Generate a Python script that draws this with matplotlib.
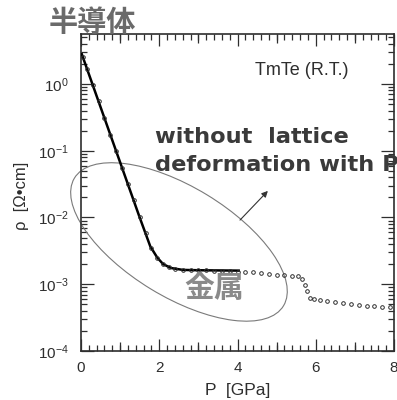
import numpy as np
import matplotlib
matplotlib.use("Agg")
import matplotlib.pyplot as plt
from matplotlib.patches import Ellipse
from matplotlib.ticker import LogLocator, MultipleLocator, NullFormatter, FixedLocator

plt.rcParams['font.family'] = ['Liberation Sans', 'DejaVu Sans']
plt.rcParams['mathtext.fontset'] = 'custom'
plt.rcParams['mathtext.rm'] = 'Liberation Sans'
plt.rcParams['mathtext.it'] = 'Liberation Sans:italic'

# Measured resistivity of TmTe at room temperature (open circles)
p_meas = [0.05, 0.15, 0.30, 0.45, 0.60, 0.75, 0.90, 1.05, 1.20, 1.35, 1.50,
          1.65, 1.80, 1.95, 2.10, 2.25, 2.40, 2.60, 2.80, 3.00, 3.20, 3.40,
          3.60, 3.80, 4.00, 4.20, 4.40, 4.60, 4.80, 5.00, 5.20, 5.40, 5.55,
          5.65, 5.72, 5.78, 5.85, 5.95, 6.10, 6.30, 6.50, 6.70, 6.90, 7.10,
          7.30, 7.50, 7.70, 7.90]
rho_meas = [2.5, 1.7, 0.96, 0.55, 0.31, 0.17, 0.098, 0.056, 0.032, 0.018,
            0.010, 0.0058, 0.0035, 0.0025, 0.0020, 0.0018, 0.0017, 0.00164,
            0.00163, 0.00162, 0.00161, 0.00160, 0.00159, 0.00157, 0.00155,
            0.00153, 0.00150, 0.00147, 0.00143, 0.00139, 0.00136, 0.00134,
            0.00132, 0.00118, 0.00098, 0.00078, 0.00063, 0.00060, 0.00058,
            0.00056, 0.00054, 0.00052, 0.00050, 0.00049, 0.00048, 0.00047,
            0.00046, 0.00045]

# Calculated curve without lattice deformation (solid line)
p_calc = [0.02, 0.90, 1.50, 1.77, 1.95, 2.10, 2.30, 2.60, 3.00, 4.03]
rho_calc = [2.8, 0.098, 0.010, 0.0037, 0.0025, 0.0020, 0.00175, 0.00164,
            0.00162, 0.00160]

x_major = [0, 2, 4, 6, 8]
x_mid = [1, 3, 5, 7]

W, H = 397, 400
fig = plt.figure(figsize=(W / 100, H / 100), dpi=100)
ax = fig.add_axes([81 / W, 1 - 351 / H, (394 - 81) / W, (351 - 34) / H])

ink = '#2e2e2e'
ax.plot(p_calc, rho_calc, color='black', lw=1.8, zorder=3)
ax.plot(p_meas, rho_meas, ls='none', marker='o', ms=2.6, mfc='none',
        mec=ink, mew=0.7, zorder=4)

ax.set_yscale('log')
ax.set_xlim(0, 8)
ax.set_ylim(1e-4, 5.6)

ax.xaxis.set_major_locator(FixedLocator(x_major))
ax.xaxis.set_minor_locator(MultipleLocator(0.2))
ax.yaxis.set_major_locator(LogLocator(base=10, numticks=10))
ax.yaxis.set_minor_locator(LogLocator(base=10, subs=np.arange(2, 10), numticks=20))
ax.yaxis.set_minor_formatter(NullFormatter())

ax.tick_params(which='both', direction='in', top=True, right=True,
               color=ink, labelcolor=ink, width=0.9)
ax.tick_params(axis='y', which='major', length=9.5, labelsize=11, pad=9)
ax.tick_params(axis='y', which='minor', length=4.5)
ax.tick_params(axis='x', which='major', length=8.5, labelsize=11, pad=7)
ax.tick_params(axis='x', which='minor', length=4)
for s in ax.spines.values():
    s.set_linewidth(1.2)
    s.set_color(ink)

# medium-length ticks at odd pressures, bottom and top
for loc in ('bottom', 'top'):
    sec = ax.secondary_xaxis(loc)
    sec.set_xticks(x_mid)
    sec.tick_params(direction='in', length=6.5, width=0.9, color=ink,
                    labelbottom=False, labeltop=False)
    sec.spines[loc].set_visible(False)

ax.set_xlabel('P  [GPa]', fontsize=12.5, color=ink, labelpad=6)
ax.set_ylabel('ρ  [Ω•cm]', fontsize=12, color=ink)
ax.yaxis.set_label_coords(-0.165, 0.49)

ax.text(0.705, 0.885, 'TmTe (R.T.)', transform=ax.transAxes, fontsize=13,
        color=ink, ha='center', va='center')

# metallic region outline and arrow
ell = Ellipse((0.313, 0.344), 0.780, 0.347, angle=-31, transform=ax.transAxes,
              fill=False, ec='#7a7a7a', lw=0.8, zorder=2, clip_on=False)
ax.add_patch(ell)
ax.annotate('', xy=(0.597, 0.505), xytext=(0.508, 0.413),
            xycoords='axes fraction', textcoords='axes fraction',
            arrowprops=dict(arrowstyle='-|>', color='#333333', lw=0.8,
                            mutation_scale=9, shrinkA=0, shrinkB=0))

fig.text(155 / W, 1 - 143 / H, 'without  lattice', fontsize=16.2,
         fontweight='bold', family='DejaVu Sans', color='#3a3a3a',
         ha='left', va='baseline')
fig.text(155 / W, 1 - 171 / H, 'deformation with P', fontsize=16.2,
         fontweight='bold', family='DejaVu Sans', color='#3a3a3a',
         ha='left', va='baseline')

fig.text(92 / W, 1 - 22 / H, '半導体', fontsize=21, fontweight='bold',
         family=['Noto Sans CJK JP', 'DejaVu Sans'], color='#6a6a6a',
         ha='center', va='center')
fig.text(214 / W, 1 - 288 / H, '金属', fontsize=21.5, fontweight='bold',
         family=['Noto Sans CJK JP', 'DejaVu Sans'], color='#8a8a8a',
         ha='center', va='center')

fig.savefig('out.png', dpi=100)
